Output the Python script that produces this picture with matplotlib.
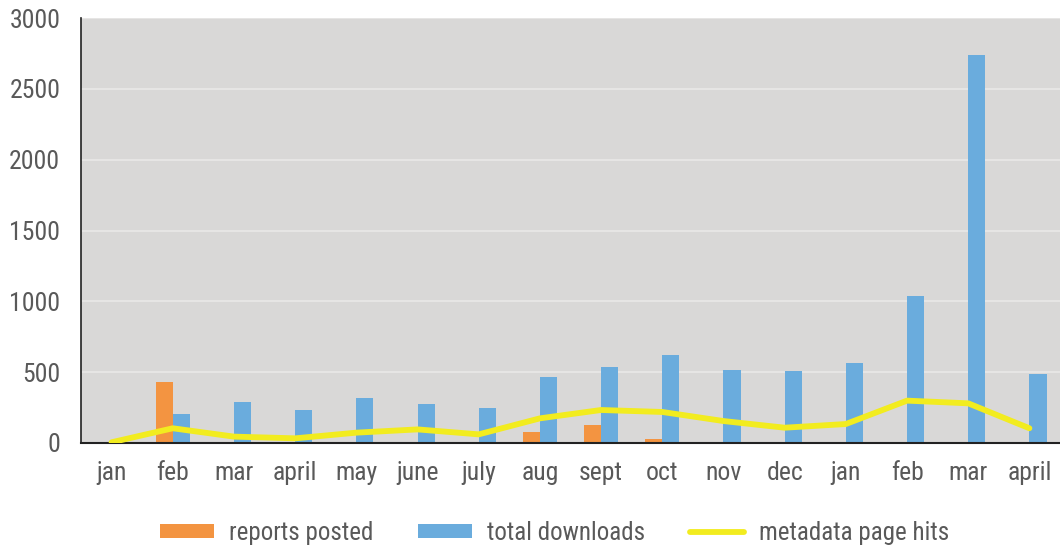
import matplotlib
matplotlib.use("Agg")
import matplotlib.pyplot as plt
import numpy as np
from matplotlib import font_manager as fm

names = {f.name for f in fm.fontManager.ttflist}
fam = [n for n in ["Liberation Sans Narrow", "Roboto Condensed", "Roboto", "DejaVu Sans"] if n in names]
plt.rcParams['font.family'] = fam

categories = ["jan", "feb", "mar", "april", "may", "june", "july", "aug",
              "sept", "oct", "nov", "dec", "jan", "feb", "mar", "april"]
reports_posted = [0, 428, 0, 0, 0, 0, 0, 78, 129, 28, 0, 0, 0, 0, 0, 0]
total_downloads = [0, 203, 287, 235, 318, 273, 247, 466, 536, 621, 518, 508, 567, 1038, 2740, 485]
metadata_hits = [5, 104, 45, 33, 73, 96, 61, 174, 233, 219, 155, 108, 134, 299, 280, 104]
yticks = [0, 500, 1000, 1500, 2000, 2500, 3000]

fig = plt.figure(figsize=(10.6, 5.46), dpi=100)
ax = fig.add_axes([81/1060, 1-443/546, 1-81/1060, (443-18)/546])
ax.set_facecolor("#D9D8D7")

x = np.arange(len(categories))
w = 0.28
b1 = ax.bar(x - w/2, reports_posted, width=w, color="#F39441", label="reports posted", zorder=2)
b2 = ax.bar(x + w/2, total_downloads, width=w, color="#6AACDD", label="total downloads", zorder=2)
l1, = ax.plot(x, metadata_hits, color="#F2EC1F", lw=4.2, label="metadata page hits", zorder=3,
              solid_capstyle="round", solid_joinstyle="round")

ax.set_xlim(-0.5, len(categories) - 0.5)
ax.set_ylim(0, 3000)
ax.set_yticks(yticks)
ax.set_xticks(x)
ax.set_xticklabels(categories)
ax.grid(axis="y", color="#E6E5E4", lw=1.5, zorder=1)
ax.set_axisbelow(True)
for s in ["top", "right"]:
    ax.spines[s].set_visible(False)
ax.spines["left"].set_color("#222222")
ax.spines["bottom"].set_color("#222222")
ax.spines["left"].set_linewidth(1.2)
ax.spines["bottom"].set_linewidth(1.5)
ax.tick_params(axis="both", length=0, labelsize=18.5, labelcolor="#595959")
ax.tick_params(axis="y", pad=15)
ax.tick_params(axis="x", pad=13)

leg = fig.legend(handles=[b1, b2, l1], loc="center", bbox_to_anchor=(0.523, 1-533/546), ncol=3,
                 frameon=False, fontsize=18, handlelength=2.16, handleheight=0.44,
                 handletextpad=0.6, columnspacing=1.8, labelcolor="#595959")

fig.savefig("out.png", dpi=100)
